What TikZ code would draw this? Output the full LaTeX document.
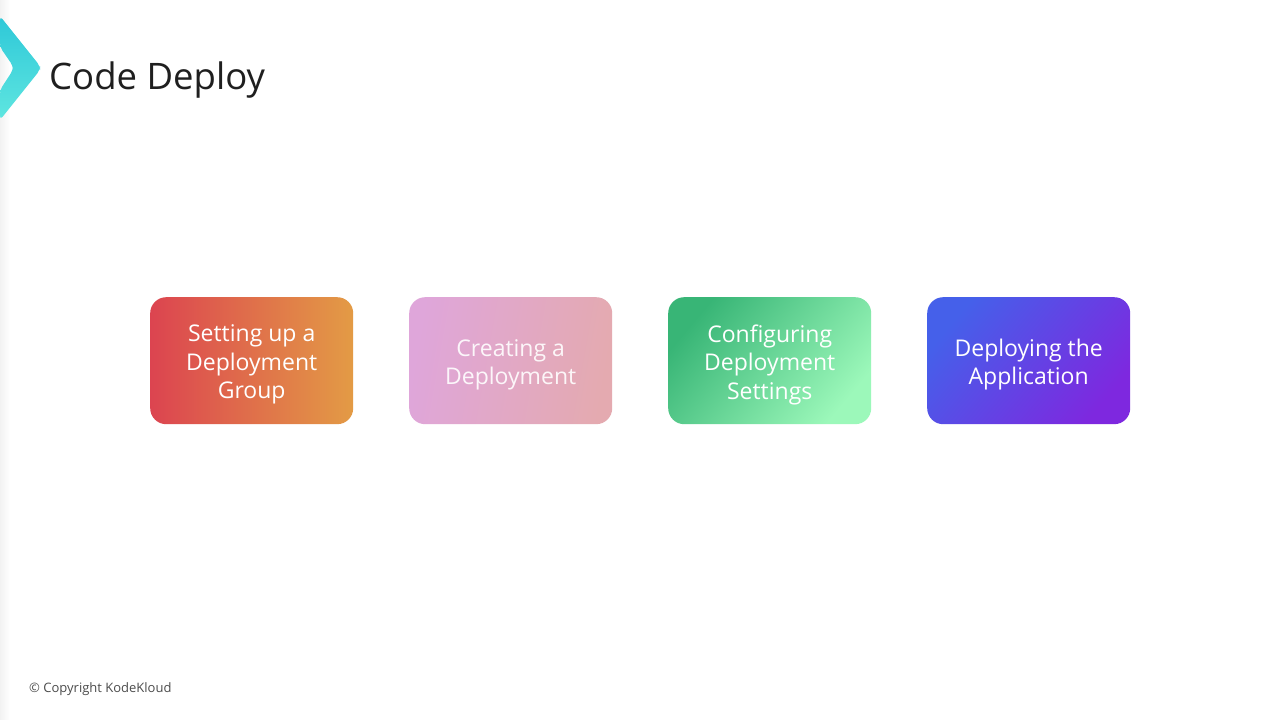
\documentclass[tikz,border=0pt]{standalone}
\usepackage{fontspec}
\setmainfont{Open Sans}
\begin{document}
\begin{tikzpicture}[x=1pt,y=-1pt,
  stepbox/.style={rounded corners=16pt, minimum width=203pt, minimum height=127pt,
    inner sep=0pt, anchor=north west},
  steptext/.style={text=white, align=center, font=\fontsize{23}{28.5}\selectfont, inner sep=0pt},
]
\definecolor{rA}{HTML}{DC4450}\definecolor{rB}{HTML}{E39B45}
\definecolor{pA}{HTML}{DFA6DA}\definecolor{pB}{HTML}{E4AAB0}
\definecolor{gA}{HTML}{38B576}\definecolor{gB}{HTML}{9CF8BA}
\definecolor{bA}{HTML}{4560EA}\definecolor{bB}{HTML}{7E28DF}
\definecolor{cyA}{HTML}{2EC8D8}\definecolor{cyB}{HTML}{5FE6E0}
\useasboundingbox (0,0) rectangle (1280,720);
\fill[white] (0,0) rectangle (1280,720);
\shade[left color=black!5, right color=white] (0,0) rectangle (10,720);
% logo chevron
\shade[top color=cyA, bottom color=cyB, rounded corners=4pt]
  (0,16) -- (40,66) -- (40,70) -- (0,120) -- (0,90) -- (13,70) -- (13,66) -- (0,47) -- cycle;
\node[anchor=base west, font=\fontsize{36.5}{40}\selectfont, text=black!88, inner sep=0pt] (title) at (49,89) {Code Deploy};
\node[stepbox, left color=rA, right color=rB] (s1) at (150,297) {};
\node[stepbox, left color=pA, right color=pB, shading angle=80] (s2) at (409,297) {};
\node[stepbox, top color=gA, bottom color=gB, shading angle=50] (s3) at (668,297) {};
\node[stepbox, top color=bA, bottom color=bB, shading angle=50] (s4) at (927,297) {};
\node[steptext] (t1) at ([yshift=-4pt]s1.center) {Setting up a\\Deployment\\Group};
\node[steptext, text opacity=0.9] (t2) at ([yshift=-4pt]s2.center) {Creating a\\Deployment};
\node[steptext] (t3) at ([yshift=-4pt]s3.center) {Configuring\\Deployment\\Settings};
\node[steptext] (t4) at ([yshift=-4pt]s4.center) {Deploying the\\Application};
\node[anchor=base west, font=\fontsize{13}{14}\selectfont, text=black!70, inner sep=0pt] (copy) at (29,692) {© Copyright KodeKloud};
\end{tikzpicture}
\end{document}
